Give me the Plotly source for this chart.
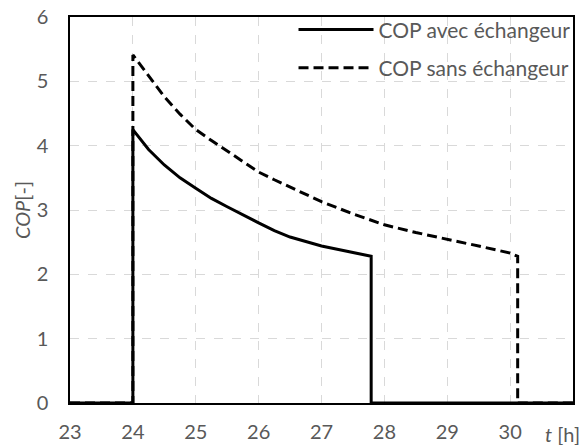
import plotly.graph_objects as go

# Solid: COP avec échangeur
t_avec = [23, 24, 24, 24.25, 24.5, 24.75, 25, 25.25, 25.5, 25.75, 26, 26.25, 26.5,
          26.75, 27, 27.25, 27.5, 27.79, 27.79, 31]
cop_avec = [0, 0, 4.25, 3.94, 3.70, 3.50, 3.34, 3.18, 3.05, 2.92, 2.80, 2.68, 2.58,
            2.51, 2.44, 2.39, 2.34, 2.28, 0, 0]

# Dashed: COP sans échangeur
t_sans = [23, 24, 24, 24.25, 24.5, 24.75, 25, 25.25, 25.5, 25.75, 26, 26.25, 26.5,
          26.75, 27, 27.5, 28, 28.5, 29, 29.5, 30, 30.12, 30.12, 31]
cop_sans = [0, 0, 5.41, 5.08, 4.76, 4.49, 4.25, 4.08, 3.92, 3.75, 3.59, 3.47, 3.36,
            3.25, 3.13, 2.94, 2.77, 2.65, 2.55, 2.44, 2.33, 2.28, 0, 0]

x_ticks = [23, 24, 25, 26, 27, 28, 29, 30]
y_ticks = [0, 1, 2, 3, 4, 5, 6]

FONT = "Lato"
GREY = "#595959"
FS = 20

fig = go.Figure()
fig.add_trace(go.Scatter(x=t_avec, y=cop_avec, mode="lines", name="COP avec échangeur",
                         line=dict(color="black", width=3), legendgroup="a"))
fig.add_trace(go.Scatter(x=t_sans, y=cop_sans, mode="lines", name="COP sans échangeur",
                         line=dict(color="black", width=3, dash="10px,5px"),
                         legendgroup="b"))

fig.update_layout(
    width=586, height=445,
    margin=dict(l=70, r=13, t=17, b=42, autoexpand=False),
    paper_bgcolor="white", plot_bgcolor="white",
    font=dict(family=FONT, size=FS, color=GREY),
    showlegend=True,
    legend=dict(x=1.005, y=1.02, xanchor="right", yanchor="top", bgcolor="rgba(0,0,0,0)",
                font=dict(family=FONT, size=21, color=GREY), itemwidth=75,
                tracegroupgap=8, traceorder="grouped"),
    xaxis=dict(range=[23, 31], tickvals=x_ticks, showgrid=True, gridcolor="#d9d9d9",
               griddash="dash", gridwidth=1, zeroline=False, showline=True,
               linecolor="black", linewidth=1.5, mirror=True, ticks="",
               ticklabelstandoff=10, automargin=False,
               tickfont=dict(family=FONT, size=FS, color=GREY)),
    yaxis=dict(range=[0, 6], tickvals=y_ticks, showgrid=True, gridcolor="#d9d9d9",
               griddash="dash", gridwidth=1, zeroline=False, showline=True,
               linecolor="black", linewidth=1.5, mirror=True, ticks="",
               ticklabelstandoff=16, automargin=False,
               tickfont=dict(family=FONT, size=FS, color=GREY)),
)
fig.add_annotation(text="<i>COP</i>[-]", xref="paper", yref="paper", x=0, y=0.5,
                   xshift=-48, textangle=-90, xanchor="center", yanchor="middle",
                   showarrow=False, font=dict(family=FONT, size=FS, color=GREY))
fig.add_annotation(text="<i>t</i> [h]", xref="paper", yref="paper", x=0.98, y=0,
                   yshift=-17, xanchor="center", yanchor="top", showarrow=False,
                   font=dict(family=FONT, size=FS, color=GREY))

fig.write_html("out.html", config={"displayModeBar": False},
               post_script="document.body.style.margin='0';document.body.style.padding='0';")
